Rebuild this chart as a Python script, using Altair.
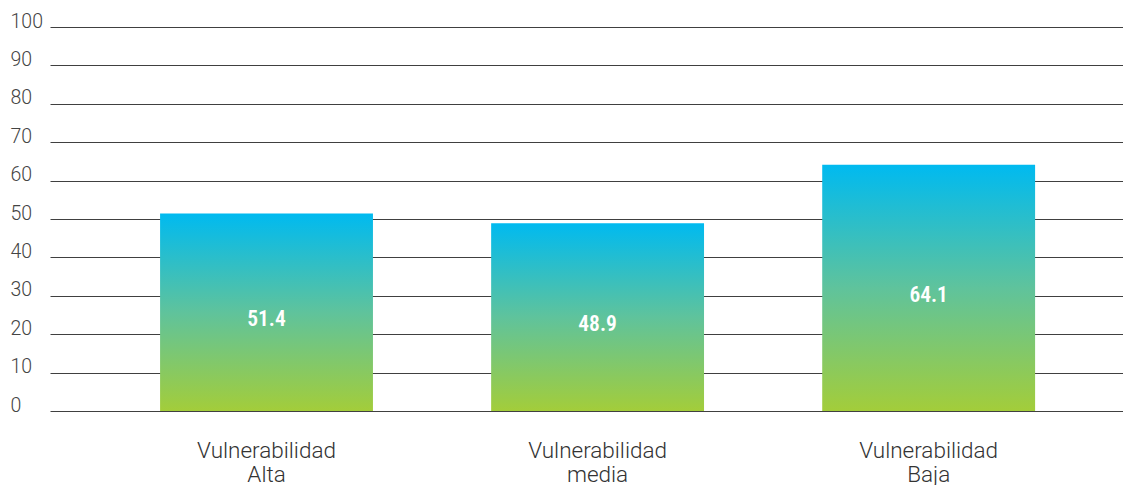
import altair as alt
import pandas as pd

categories = ["Vulnerabilidad Alta", "Vulnerabilidad media", "Vulnerabilidad Baja"]
values = [51.4, 48.9, 64.1]
y_ticks = [0, 10, 20, 30, 40, 50, 60, 70, 80, 90, 100]

df = pd.DataFrame({"cat": categories, "val": values})
df["label"] = df["val"].map(lambda v: f"{v:.1f}")
df["mid"] = df["val"] / 2

grad = alt.Gradient(
    gradient="linear",
    stops=[
        alt.GradientStop(color="#00baf0", offset=0),
        alt.GradientStop(color="#5fc39c", offset=0.5),
        alt.GradientStop(color="#a3cd3a", offset=1),
    ],
    x1=0, x2=0, y1=0, y2=1,
)

x_axis = alt.Axis(
    title=None, domain=False, ticks=False, labelAngle=0,
    labelExpr="split(datum.label, ' ')", labelFont="Roboto",
    labelFontWeight=300, labelFontSize=22.5, labelColor="#333333",
    labelPadding=39, labelLineHeight=24, labelBaseline="middle",
)
x_scale = alt.Scale(paddingInner=0.357, paddingOuter=0.299, align=0.556)
y_axis = alt.Axis(
    title=None, domain=False, ticks=False, values=y_ticks,
    labelOverlap=False,
    labelFont="Roboto", labelFontWeight=300, labelFontSize=19.5,
    labelColor="#444444", labelAlign="left", labelPadding=40,
    labelOffset=-6, gridColor="#404040", gridWidth=1, gridOpacity=1,
)
y_scale = alt.Scale(domain=[0, 100], nice=False)

bars = alt.Chart(df).mark_bar(color=grad).encode(
    x=alt.X("cat:N", sort=categories, scale=x_scale, axis=x_axis),
    y=alt.Y("val:Q", scale=y_scale, axis=y_axis),
)
text = alt.Chart(df).mark_text(
    color="white",
    font="Roboto Condensed, Noto Sans Condensed, Open Sans Condensed, DejaVu Sans Condensed",
    fontWeight=600, fontSize=21.5, baseline="middle", dy=8,
).encode(
    x=alt.X("cat:N", sort=categories, scale=x_scale, axis=x_axis),
    y=alt.Y("mid:Q", scale=y_scale, axis=y_axis),
    text="label:N",
)

chart = (bars + text).properties(
    width=1073, height=384,
    autosize=alt.AutoSizeParams(type="none"),
    padding={"left": 42, "top": 19, "right": 0, "bottom": 80},
).configure_view(stroke=None)

chart.save("out.html", embed_options={"renderer": "svg", "actions": False})
